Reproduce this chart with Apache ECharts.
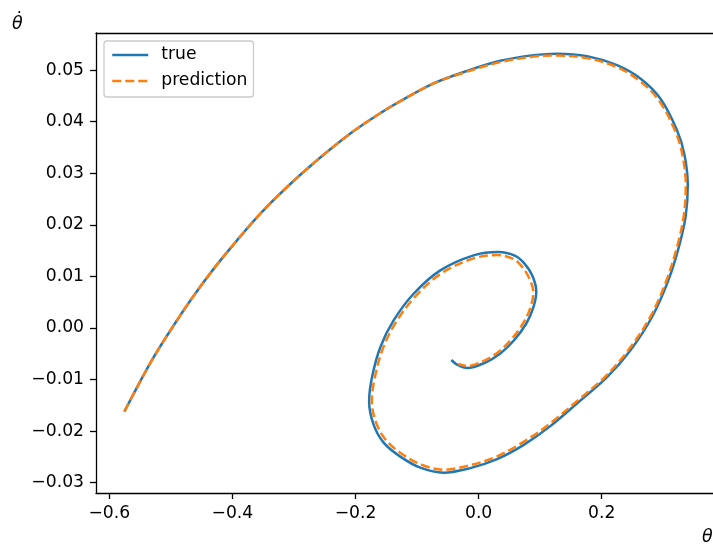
<!DOCTYPE html>
<html>
<head>
<meta charset="utf-8">
<script src="https://cdn.jsdelivr.net/npm/echarts@6/dist/echarts.min.js"></script>
<style>
  html, body { margin: 0; padding: 0; background: #fff; }
  #chart { width: 713px; height: 549px; }
</style>
</head>
<body>
<div id="chart"></div>
<script>
// phase portrait, theta against theta-dot
const trueTheta = [
  -0.5755, -0.5549, -0.5279, -0.5008, -0.4683, -0.4305, -0.3925, -0.3546, -0.3112, -0.2625,
  -0.2084, -0.1650, -0.1272, -0.0731, -0.0188, 0.0352, 0.0893, 0.1274, 0.1761, 0.2248,
  0.2627, 0.2952, 0.3223, 0.3346, 0.3398, 0.3366, 0.3260, 0.3082, 0.2822, 0.2464,
  0.2086, 0.1652, 0.1165, 0.0726, 0.0299, -0.0135, -0.0569, -0.0947, -0.1272, -0.1543,
  -0.1706, -0.1779, -0.1732, -0.1597, -0.1381, -0.1056, -0.0622, -0.0081, 0.0320, 0.0596,
  0.0742, 0.0872, 0.0937, 0.0889, 0.0775, 0.0572, 0.0352, 0.0109, -0.0188, -0.0351,
  -0.0443
];
const trueOmega = [
  -0.01621, -0.01150, -0.00567, -0.00049, 0.00534, 0.01146, 0.01699, 0.02217, 0.02734, 0.03252,
  0.03771, 0.04126, 0.04398, 0.04742, 0.04986, 0.05181, 0.05291, 0.05320, 0.05272, 0.05097,
  0.04839, 0.04450, 0.03835, 0.03350, 0.02767, 0.02184, 0.01602, 0.00922, 0.00223, -0.00437,
  -0.00955, -0.01408, -0.01903, -0.02272, -0.02544, -0.02718, -0.02806, -0.02709, -0.02495, -0.02223,
  -0.01874, -0.01427, -0.00955, -0.00373, 0.00146, 0.00664, 0.01117, 0.01408, 0.01472, 0.01398,
  0.01252, 0.01019, 0.00709, 0.00398, 0.00087, -0.00243, -0.00495, -0.00670, -0.00777, -0.00709,
  -0.00621
];
const predTheta = [
  -0.5755, -0.5549, -0.5279, -0.5008, -0.4683, -0.4305, -0.3925, -0.3546, -0.3112, -0.2625,
  -0.2084, -0.1650, -0.1272, -0.0731, -0.0188, 0.0352, 0.0893, 0.1274, 0.1761, 0.2248,
  0.2610, 0.2927, 0.3195, 0.3314, 0.3366, 0.3333, 0.3228, 0.3049, 0.2789, 0.2440,
  0.2066, 0.1636, 0.1148, 0.0710, 0.0288, -0.0135, -0.0565, -0.0931, -0.1239, -0.1499,
  -0.1662, -0.1735, -0.1686, -0.1556, -0.1345, -0.1028, -0.0606, -0.0081, 0.0304, 0.0564,
  0.0702, 0.0824, 0.0889, 0.0840, 0.0726, 0.0531, 0.0320, 0.0093, -0.0184, -0.0330
];
const predOmega = [
  -0.01621, -0.01150, -0.00567, -0.00049, 0.00534, 0.01146, 0.01699, 0.02217, 0.02734, 0.03252,
  0.03771, 0.04126, 0.04398, 0.04742, 0.04971, 0.05155, 0.05262, 0.05282, 0.05233, 0.05058,
  0.04796, 0.04417, 0.03816, 0.03340, 0.02757, 0.02175, 0.01592, 0.00913, 0.00214, -0.00417,
  -0.00932, -0.01379, -0.01864, -0.02223, -0.02495, -0.02660, -0.02748, -0.02650, -0.02447, -0.02184,
  -0.01845, -0.01417, -0.00961, -0.00398, 0.00107, 0.00612, 0.01058, 0.01350, 0.01414, 0.01340,
  0.01194, 0.00961, 0.00689, 0.00388, 0.00097, -0.00223, -0.00466, -0.00631, -0.00738, -0.00699
];
const xTicks = [-0.6, -0.4, -0.2, 0.0, 0.2];
const yTicks = [-0.03, -0.02, -0.01, 0.00, 0.01, 0.02, 0.03, 0.04, 0.05];

const FONT = 'DejaVu Sans';
const FS = 17.2;
const fmt = (v, d) => (v < -1e-9 ? '\u2212' : '') + Math.abs(v).toFixed(d);
const zip = (a, b) => a.map((v, i) => [v, b[i]]);

const blue = '#1f77b4';
const orange = '#ff7f0e';

const chart = echarts.init(document.getElementById('chart'));

const option = {
  animation: false,
  backgroundColor: '#fff',
  grid: { left: 96, right: 0, top: 33, bottom: 56 },
  legend: {
    orient: 'vertical',
    left: 104,
    top: 41,
    padding: [5, 6, 7, 7],
    itemGap: 8,
    itemWidth: 36,
    itemHeight: 18,
    backgroundColor: 'rgba(255,255,255,0.8)',
    borderColor: '#cccccc',
    borderWidth: 1.3,
    borderRadius: 3,
    itemStyle: { opacity: 0 },
    textStyle: { fontFamily: FONT, fontSize: FS, color: '#000', padding: [0, 0, 0, 8], lineHeight: 18 },
    data: [
      { name: 'true', lineStyle: { color: blue, width: 2.5, type: 'solid' } },
      { name: 'prediction', lineStyle: { color: orange, width: 2.5, type: [9, 4] } }
    ]
  },
  xAxis: [{
    type: 'value',
    min: -0.6216,
    max: 0.3808,
    splitLine: { show: false },
    axisLine: { onZero: false, lineStyle: { color: '#000', width: 1.3 } },
    axisTick: { customValues: xTicks, length: 6, lineStyle: { color: '#000', width: 1.3 } },
    axisLabel: {
      customValues: xTicks,
      margin: 12,
      fontFamily: FONT, fontSize: FS, color: '#000',
      formatter: v => fmt(v, 1)
    }
  }, {
    type: 'value',
    position: 'top',
    min: -0.6216,
    max: 0.3808,
    splitLine: { show: false },
    axisLine: { onZero: false, lineStyle: { color: '#000', width: 1.3 } },
    axisTick: { show: false },
    axisLabel: { show: false }
  }],
  yAxis: {
    type: 'value',
    min: -0.0320,
    max: 0.0572,
    splitLine: { show: false },
    axisLine: { show: true, onZero: false, lineStyle: { color: '#000', width: 1.3 } },
    axisTick: { show: true, customValues: yTicks, length: 6, lineStyle: { color: '#000', width: 1.3 } },
    axisLabel: {
      customValues: yTicks,
      margin: 12,
      fontFamily: FONT, fontSize: FS, color: '#000',
      formatter: v => fmt(v, 2)
    }
  },
  graphic: [
    { type: 'text', left: 702, top: 528, style: { text: 'θ', font: 'italic 17.5px "DejaVu Sans"', fill: '#000' } },
    { type: 'text', left: 12, top: 15, style: { text: 'θ\u0307', font: 'italic 17.5px "DejaVu Sans"', fill: '#000' } }
  ],
  series: [{
    name: 'true',
    type: 'line',
    smooth: 0.35,
    symbol: 'none',
    data: zip(trueTheta, trueOmega),
    lineStyle: { color: blue, width: 2.5 },
    itemStyle: { color: blue }
  }, {
    name: 'prediction',
    type: 'line',
    smooth: 0.35,
    symbol: 'none',
    data: zip(predTheta, predOmega),
    lineStyle: { color: orange, width: 2.5, type: [9, 4] },
    itemStyle: { color: orange }
  }]
};

chart.setOption(option);
</script>
</body>
</html>
